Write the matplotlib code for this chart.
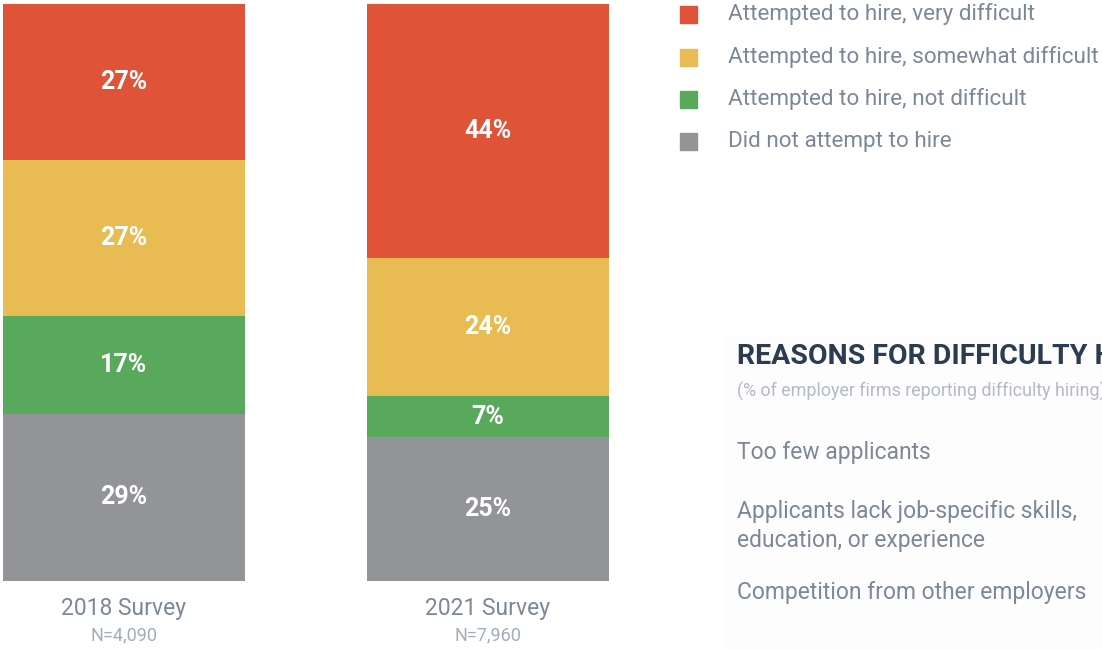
import matplotlib
matplotlib.use("Agg")
import matplotlib.pyplot as plt
from matplotlib.patches import Rectangle

# data
surveys = ["2018 Survey", "2021 Survey"]
sample_sizes = ["N=4,090", "N=7,960"]
categories = ["Attempted to hire, very difficult",
              "Attempted to hire, somewhat difficult",
              "Attempted to hire, not difficult",
              "Did not attempt to hire"]
very_difficult = [27, 44]
somewhat_difficult = [27, 24]
not_difficult = [17, 7]
did_not_attempt = [29, 25]
colors = ["#DF5339", "#E9BC53", "#59A95C", "#939498"]

reasons = ["Too few applicants",
           "Applicants lack job-specific skills,\neducation, or experience",
           "Competition from other employers"]

narrow = ["Liberation Sans Narrow", "Roboto", "DejaVu Sans"]
txt_col = "#7C8898"

fig = plt.figure(figsize=(11.02, 6.49), dpi=100)
W, H = 1102, 649

# stacked bars
ax = fig.add_axes([3 / W, (649 - 581) / H, 606 / W, 577 / H])
x = [0, 1]
width = 0.665
series = [did_not_attempt, not_difficult, somewhat_difficult, very_difficult]
series_colors = colors[::-1]
bottom = [0, 0]
for vals, c in zip(series, series_colors):
    ax.bar(x, vals, width=width, bottom=bottom, color=c, linewidth=0)
    for i in range(2):
        ax.text(x[i], bottom[i] + vals[i] / 2, f"{vals[i]}%", ha="center", va="center",
                color="white", fontsize=18, fontweight="bold", family=["Roboto", "DejaVu Sans"])
    bottom = [b + v for b, v in zip(bottom, vals)]
ax.set_xlim(-width / 2, 1 + width / 2)
ax.set_ylim(0, 100)
ax.axis("off")

# survey labels
for i in range(2):
    ax.text(x[i], -4.8, surveys[i], ha="center", va="center", fontsize=16.5,
            color=txt_col, family=narrow, clip_on=False)
    ax.text(x[i], -9.4, sample_sizes[i], ha="center", va="center", fontsize=13,
            color="#A3ADB8", family=narrow, clip_on=False)

# legend
leg_y = [14, 57, 99, 141]
for lab, c, yy in zip(categories, colors, leg_y):
    fig.patches.append(Rectangle((680 / W, 1 - (yy + 8.5) / H), 17 / W, 17 / H,
                                 transform=fig.transFigure, color=c, figure=fig))
    fig.text(728 / W, 1 - yy / H, lab, ha="left", va="center", fontsize=16.2,
             color=txt_col, family=narrow)

# reasons panel (cropped at the right edge, as in the source)
fig.patches.append(Rectangle((726 / W, 0), 1, 1 - 338 / H, transform=fig.transFigure,
                             color="#FDFDFD", figure=fig, zorder=-1))
fig.text(737 / W, 1 - 357 / H, "REASONS FOR DIFFICULTY HIRING", ha="left", va="center",
         fontsize=20.5, fontweight="bold", color="#2B3B50", family=["Roboto", "DejaVu Sans"])
fig.text(737 / W, 1 - 391 / H, "(% of employer firms reporting difficulty hiring)",
         ha="left", va="center", fontsize=12.9, color="#B3BAC3", family=narrow)
reason_y = [453, 526, 592]
for r, yy in zip(reasons, reason_y):
    fig.text(737 / W, 1 - yy / H, r, ha="left", va="center", fontsize=16.5,
             color=txt_col, family=narrow, linespacing=1.38)

fig.savefig("out.png", dpi=100)
